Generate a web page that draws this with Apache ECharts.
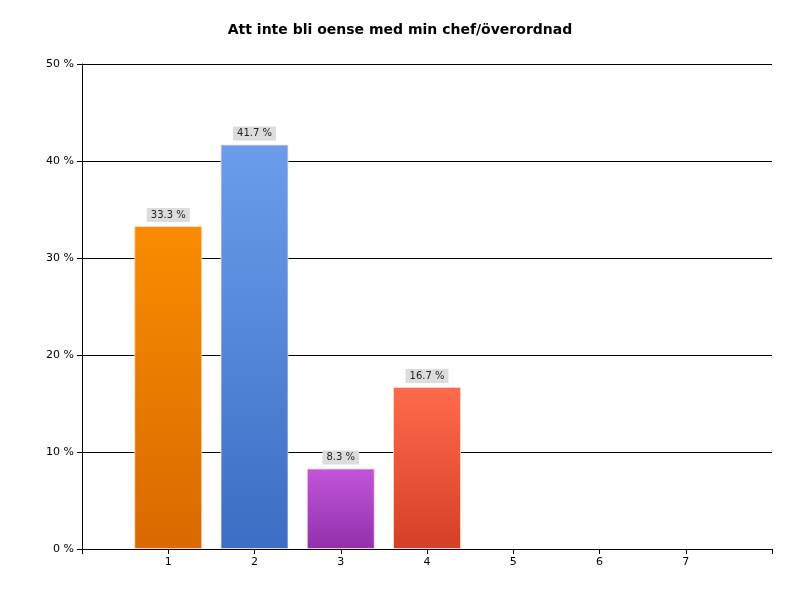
<!DOCTYPE html>
<html><head><meta charset="utf-8">
<script src="https://cdn.jsdelivr.net/npm/echarts@6/dist/echarts.min.js"></script>
<style>html,body{margin:0;padding:0;background:#fff}#c{width:800px;height:600px}</style>
</head><body><div id="c"></div>
<script>
const categories = [1, 2, 3, 4, 5, 6, 7];
const values = [33.3, 41.7, 8.3, 16.7, null, null, null];
const yTicks = [0, 10, 20, 30, 40, 50];
const colorsTop = ['#f98c00', '#6c9deb', '#c155db', '#ff6a4c'];
const colorsBot = ['#d96900', '#3d6dc4', '#9230ac', '#d63f27'];

const data = categories.map((c, i) => values[i] == null ? null : ({
  value: [c, values[i]],
  itemStyle: {
    color: new echarts.graphic.LinearGradient(0, 0, 0, 1, [
      {offset: 0, color: colorsTop[i]}, {offset: 1, color: colorsBot[i]}]),
    borderColor: 'rgba(255,220,210,0.8)', borderWidth: 1
  }
})).filter(d => d);

const chart = echarts.init(document.getElementById('c'));
chart.setOption({
  animation: false,
  title: {text: 'Att inte bli oense med min chef/överordnad', left: 'center', top: 18,
    textStyle: {fontFamily: 'DejaVu Sans', fontSize: 14, fontWeight: 'bold', color: '#000'}},
  grid: {left: 82, right: 28, top: 64, bottom: 51},
  xAxis: {type: 'value', min: 0, max: 8, interval: 1,
    axisLine: {lineStyle: {color: '#000'}},
    axisTick: {show: true, lineStyle: {color: '#000'}, length: 5},
    splitLine: {show: false},
    axisLabel: {fontFamily: 'DejaVu Sans', fontSize: 11, color: '#000',
      formatter: v => categories.includes(v) ? String(v) : ''}},
  yAxis: {type: 'value', min: 0, max: 50, interval: 10,
    axisLine: {show: true, lineStyle: {color: '#000'}},
    axisTick: {show: true, lineStyle: {color: '#000'}, length: 5},
    splitLine: {lineStyle: {color: '#000'}},
    axisLabel: {fontFamily: 'DejaVu Sans', fontSize: 11, color: '#000',
      formatter: v => yTicks.includes(v) ? v + ' %' : ''}},
  series: [{type: 'bar', data: data, barWidth: 68,
    label: {show: true, position: 'top', distance: 4,
      formatter: p => p.value[1].toFixed(1) + ' %',
      fontFamily: 'DejaVu Sans', fontSize: 10, color: '#222',
      backgroundColor: '#dcdcdc', padding: [2, 4]}}]
});
</script></body></html>
